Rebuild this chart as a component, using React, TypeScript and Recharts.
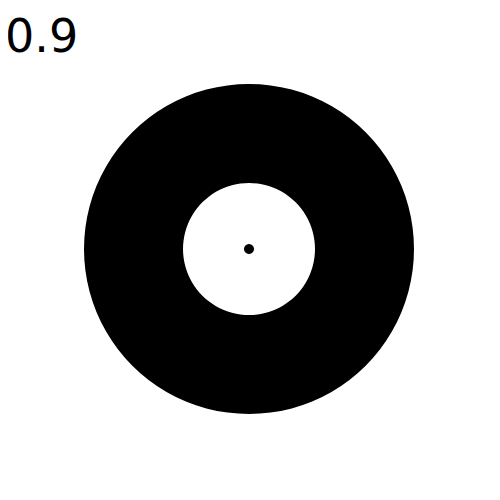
import React from "react"
import { PieChart, Pie, Cell } from "recharts"

const TITLE = "0.9"
const RING_NAMES = ["ring"]
const RING_VALUES = [1]
const DOT_VALUES = [1]

const ringData = RING_NAMES.map((name, i) => ({ name, value: RING_VALUES[i] }))
const dotData = DOT_VALUES.map((value, i) => ({ name: "dot" + i, value }))

export default function App() {
  return (
    <div style={{ position: "relative", width: 500, height: 500, margin: -8, background: "#fff" }}>
      <PieChart width={500} height={500} margin={{ top: 0, right: 0, bottom: 0, left: 0 }}>
        <Pie
          data={ringData}
          dataKey="value"
          cx={249}
          cy={249}
          innerRadius={66}
          outerRadius={165}
          startAngle={90}
          endAngle={-270}
          stroke="none"
          isAnimationActive={false}
        >
          {ringData.map((d, i) => (
            <Cell key={i} fill="#000" />
          ))}
        </Pie>
        <Pie
          data={dotData}
          dataKey="value"
          cx={249}
          cy={249}
          innerRadius={0}
          outerRadius={5}
          stroke="none"
          isAnimationActive={false}
        >
          {dotData.map((d, i) => (
            <Cell key={i} fill="#000" />
          ))}
        </Pie>
      </PieChart>
      <svg width={120} height={70} style={{ position: "absolute", left: 0, top: 0 }}>
        <text x={5} y={52} fontFamily="DejaVu Sans" fontSize={46} fill="#000">
          {TITLE}
        </text>
      </svg>
    </div>
  )
}
